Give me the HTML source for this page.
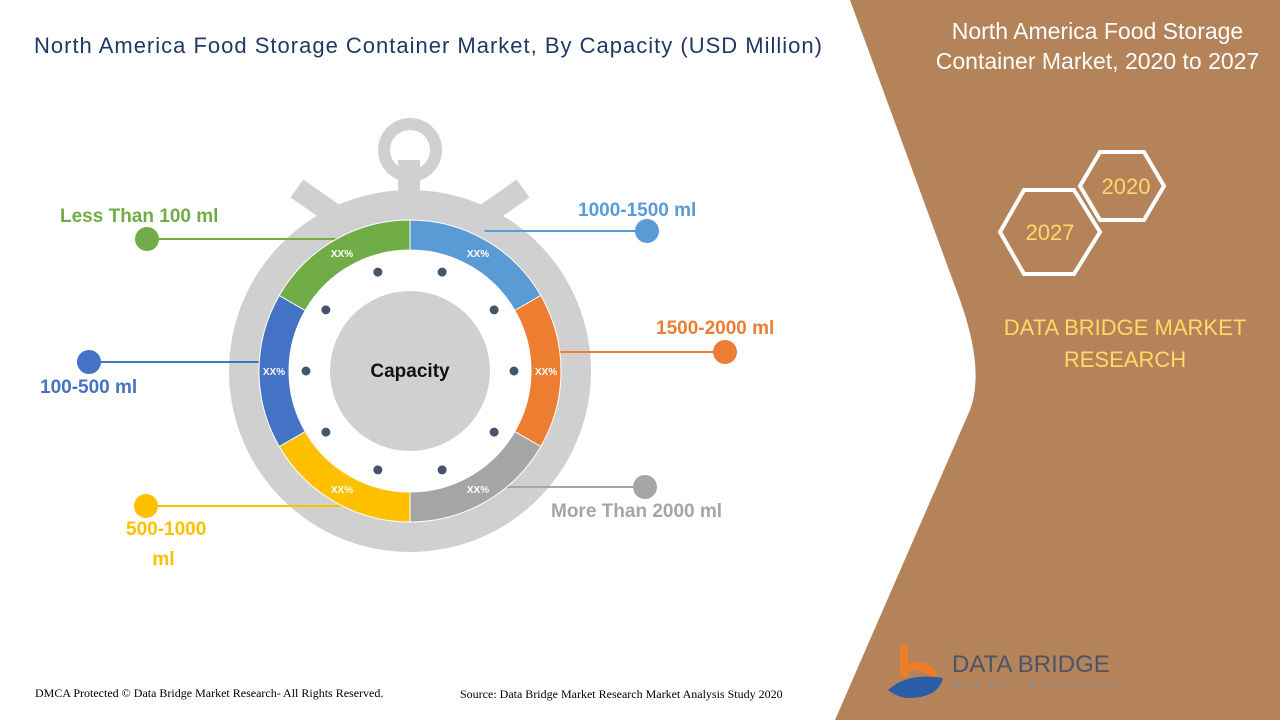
<!DOCTYPE html>
<html><head><meta charset="utf-8"><style>
body{margin:0;width:1280px;height:720px;overflow:hidden;background:#fff;font-family:"Liberation Sans",sans-serif;position:relative}
.t{position:absolute;white-space:nowrap}
</style></head><body>
<svg width="1280" height="720" style="position:absolute;left:0;top:0">
<path d="M850,0 L1280,0 L1280,720 L835,720 L970,410 Q985,370 960,300 Z" fill="#B4835A"/>
<g id="watch"></g>
<g fill="none" stroke="#fff" stroke-width="4">
<polygon points="1100,152 1144,152 1164,186 1144,220 1100,220 1080,186"/>
<polygon points="1024,190 1074,190 1100,232 1074,274 1024,274 1000,232"/>
</g>
<text x="1126" y="194" fill="#FFD966" font-size="22" text-anchor="middle" font-family="Liberation Sans">2020</text>
<text x="1050" y="240" fill="#FFD966" font-size="22" text-anchor="middle" font-family="Liberation Sans">2027</text>
<g>
<path d="M900,645 h8 v18 q25,-5 30,15 l-8,2 q-4,-12 -22,-9 v6 h-8z" fill="#EE7D2B"/>
<path d="M888,690 q20,-18 55,-12 q-5,20 -35,20 q-10,0 -20,-8z" fill="#2B5CA8"/>
<text x="952" y="672" font-size="24" fill="#4A5568" font-family="Liberation Sans">DATA BRIDGE</text>
<text x="952" y="688" font-size="8" fill="#8090A0" letter-spacing="6">MARKET RESEARCH</text>
</g>
</svg>
<div class="t" style="left:34px;top:33px;font-size:22px;letter-spacing:1px;color:#203864">North America Food Storage Container Market, By Capacity (USD Million)</div>
<div class="t" style="left:915px;top:16px;width:365px;text-align:center;font-size:23px;line-height:30px;color:#fff;white-space:normal">North America Food Storage Container Market, 2020 to 2027</div>
<div class="t" style="left:985px;top:312px;width:280px;text-align:center;font-size:22px;line-height:32px;color:#FFD966;white-space:normal">DATA BRIDGE MARKET RESEARCH</div>
<div class="t" style="left:35px;top:686px;font-size:12px;font-family:'Liberation Serif',serif">DMCA Protected © Data Bridge Market Research- All Rights Reserved.</div>
<div class="t" style="left:460px;top:687px;font-size:12px;font-family:'Liberation Serif',serif">Source: Data Bridge Market Research Market Analysis Study 2020</div>
<div id="labels"></div>
<script>
const categories=["1000-1500 ml","1500-2000 ml","More Than 2000 ml","500-1000 ml","100-500 ml","Less Than 100 ml"];
const values=[1,1,1,1,1,1];
const pctLabels=["XX%","XX%","XX%","XX%","XX%","XX%"];
const colors=["#5B9BD5","#ED7D31","#A5A5A5","#FFC000","#4472C4","#70AD47"];
const NS="http://www.w3.org/2000/svg";
const g=document.getElementById('watch');
const cx=410,cy=371;
function mk(t,a){const e=document.createElementNS(NS,t);for(const k in a)e.setAttribute(k,a[k]);g.appendChild(e);return e;}
function pt(r,deg){const a=(deg-90)*Math.PI/180;return [cx+r*Math.cos(a),cy+r*Math.sin(a)];}
let e;
e=mk('circle',{cx:410,cy:150,r:26,fill:'none',stroke:'#D0D0D0','stroke-width':12});

e=mk('rect',{x:398,y:160,width:22,height:40,fill:'#D0D0D0'});

e=mk('rect',{x:-25,y:-10,width:50,height:22,fill:'#D0D0D0',transform:'translate(318,202) rotate(35)'});

e=mk('rect',{x:-25,y:-10,width:50,height:22,fill:'#D0D0D0',transform:'translate(502,202) rotate(-35)'});

e=mk('circle',{cx,cy,r:181,fill:'#D0D0D0'});

e=mk('circle',{cx,cy,r:151,fill:'#fff'});

const total=values.reduce((a,b)=>a+b,0);
let acc=0;const R1=151,R0=121;
const labelPos=[[578,196,'left'],[656,314,'left'],[551,497,'left'],[126,515,'left'],[40,373,'left'],[60,202,'left']];
const dotPos=[[647,231],[725,352],[645,487],[146,506],[89,362],[147,239]];
const L=document.getElementById('labels');
values.forEach((v,i)=>{
  const a0=acc/total*360,a1=(acc+v)/total*360;acc+=v;
  const [x0,y0]=pt(R1,a0),[x1,y1]=pt(R1,a1),[x2,y2]=pt(R0,a1),[x3,y3]=pt(R0,a0);
  const lg=(a1-a0)>180?1:0;
  const mid=(a0+a1)/2;
  const [lx,ly]=pt(R1-2,mid);const d=dotPos[i];
  const ln=mk('line',{x1:d[0]<cx?Math.min(lx,cx-60)+20:lx,y1:d[1],x2:d[0],y2:d[1],stroke:colors[i],'stroke-width':2});
  
  
  const p=mk('path',{d:`M${x0},${y0} A${R1},${R1} 0 ${lg} 1 ${x1},${y1} L${x2},${y2} A${R0},${R0} 0 ${lg} 0 ${x3},${y3}Z`,fill:colors[i],stroke:'#fff','stroke-width':1});
  
  
  const [tx,ty]=pt(136,mid);
  const t=mk('text',{x:tx,y:ty+4,'text-anchor':'middle','font-size':10,'font-weight':'bold',fill:'#fff','font-family':'Liberation Sans'});
  t.textContent=pctLabels[i];
  
  
  const c=mk('circle',{cx:d[0],cy:d[1],r:12,fill:colors[i]});
  
  
  const div=document.createElement('div');
  div.className='t';div.style.left=labelPos[i][0]+'px';div.style.top=labelPos[i][1]+'px';
  div.style.fontSize='19px';div.style.fontWeight='bold';div.style.color=colors[i];div.style.lineHeight='30px';
  if(i===3){div.innerHTML='500-1000<br>&nbsp;&nbsp;&nbsp;&nbsp;&nbsp;ml';}else div.textContent=categories[i];
  
  
  L.appendChild(div);
});
for(let k=0;k<10;k++){const [x,y]=pt(104,18+k*36);const d=mk('circle',{cx:x,cy:y,r:4.5,fill:'#44546A'});

}
e=mk('circle',{cx,cy,r:80,fill:'#D0D0D0'});

e=mk('text',{x:cx,y:cy+6,'text-anchor':'middle','font-size':19,'font-weight':'bold',fill:'#111','font-family':'Liberation Sans'});
e.textContent='Capacity';

</script>
</body></html>
